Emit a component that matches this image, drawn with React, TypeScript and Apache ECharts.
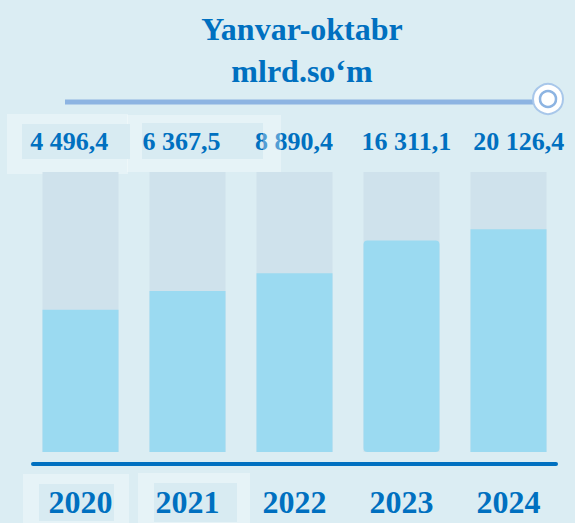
import React, { useEffect, useRef } from "react";
import * as echarts from "echarts";

const years = ["2020", "2021", "2022", "2023", "2024"];
const values = [4496.4, 6367.5, 8890.4, 16311.1, 20126.4];
const titleLines = ["Yanvar-oktabr", "mlrd.so‘m"];

const AXIS_MIN = 320;
const AXIS_MAX = 58300;
const SERIF = '"Liberation Serif", "Times New Roman", serif';
const BLUE = "#0070c0";

function fmt(v: number): string {
  const [i, d] = v.toFixed(1).split(".");
  return i.replace(/\B(?=(\d{3})+(?!\d))/g, " ") + "," + d;
}

export default function App() {
  const ref = useRef<HTMLDivElement>(null);
  useEffect(() => {
    if (!ref.current) return;
    const chart = echarts.init(ref.current, undefined, { renderer: "svg" });
    const overlay = "rgba(255,255,255,0.32)";
    const inner = "#d8ebf2";
    chart.setOption({
      animation: false,
      backgroundColor: "#dbedf3",
      grid: [
        { left: 27, right: 13, top: 172, bottom: 71 },
        { left: 13, width: 573, top: 100, height: 28 },
        { left: 33, right: 19, top: 172, bottom: 71 },
      ],
      xAxis: [
        {
          type: "category",
          gridIndex: 0,
          data: years,
          offset: 12,
          axisLine: { show: false, onZero: false },
          axisTick: { show: false },
          splitLine: { show: false },
          axisLabel: {
            interval: 0,
            margin: 22,
            fontSize: 32,
            lineHeight: 32,
            fontWeight: "bold",
            fontFamily: SERIF,
            color: BLUE,
          },
        },
        {
          type: "category",
          gridIndex: 1,
          data: values.map(fmt),
          axisLine: { show: false, onZero: false },
          axisTick: { show: false },
          splitLine: { show: false },
          axisLabel: {
            interval: 0,
            margin: 0,
            fontSize: 26,
            lineHeight: 26,
            fontWeight: "bold",
            fontFamily: SERIF,
            color: BLUE,
          },
        },
        {
          type: "category",
          gridIndex: 2,
          data: years,
          offset: 12,
          axisLine: { onZero: false, lineStyle: { color: BLUE, width: 4 } },
          axisTick: { show: false },
          axisLabel: { show: false },
          splitLine: { show: false },
        },
      ],
      yAxis: [
        { type: "log", gridIndex: 0, min: AXIS_MIN, max: AXIS_MAX, show: false },
        { type: "value", gridIndex: 1, min: 0, max: 1, show: false },
        { type: "value", gridIndex: 2, min: 0, max: 1, show: false },
      ],
      series: [
        {
          type: "bar",
          name: "frame",
          xAxisIndex: 0,
          yAxisIndex: 0,
          data: years.map(() => AXIS_MAX),
          barWidth: 76,
          barGap: "-100%",
          clip: true,
          silent: true,
          z: 1,
          itemStyle: { color: "#cfe2ec" },
        },
        {
          type: "bar",
          name: "value",
          xAxisIndex: 0,
          yAxisIndex: 0,
          data: values.map((v, i) =>
            i === 3 ? { value: v, itemStyle: { borderRadius: 4 } } : v
          ),
          barWidth: 76,
          barGap: "-100%",
          clip: true,
          z: 2,
          itemStyle: { color: "#9bdaf1" },
        },
      ],
      graphic: [
        {
          type: "text",
          x: 302,
          y: 29,
          style: {
            text: titleLines[0],
            fontSize: 32,
            fontWeight: "bold",
            fontFamily: SERIF,
            fill: BLUE,
            align: "center",
            verticalAlign: "middle",
          },
        },
        {
          type: "text",
          x: 302,
          y: 71,
          style: {
            text: titleLines[1],
            fontSize: 32,
            fontWeight: "bold",
            fontFamily: SERIF,
            fill: BLUE,
            align: "center",
            verticalAlign: "middle",
          },
        },
        {
          type: "line",
          shape: { x1: 65, y1: 102, x2: 536, y2: 102 },
          style: { stroke: "#8db4e2", lineWidth: 5 },
        },
        {
          type: "circle",
          shape: { cx: 548, cy: 99, r: 15 },
          style: { fill: "#ffffff", stroke: "#a8c7ea", lineWidth: 2 },
        },
        {
          type: "circle",
          shape: { cx: 548, cy: 99, r: 8 },
          style: { fill: "#ffffff", stroke: "#8db4e2", lineWidth: 2.5 },
        },
        // value label boxes
        { type: "rect", z: -10, shape: { x: 7, y: 114, width: 121, height: 60 }, style: { fill: overlay } },
        { type: "rect", z: -10, shape: { x: 127, y: 115, width: 136, height: 57 }, style: { fill: overlay } },
        { type: "rect", z: 100, shape: { x: 263, y: 115, width: 18, height: 57 }, style: { fill: overlay } },
        { type: "rect", z: -9, shape: { x: 22, y: 124, width: 108, height: 35 }, style: { fill: inner } },
        { type: "rect", z: -9, shape: { x: 142, y: 123, width: 121, height: 36 }, style: { fill: inner } },
        // year label boxes
        { type: "rect", z: -10, shape: { x: 23, y: 474, width: 106, height: 49 }, style: { fill: overlay } },
        { type: "rect", z: -10, shape: { x: 138, y: 473, width: 112, height: 50 }, style: { fill: overlay } },
        { type: "rect", z: -9, shape: { x: 39, y: 484, width: 75, height: 37 }, style: { fill: inner } },
        { type: "rect", z: -9, shape: { x: 154, y: 483, width: 83, height: 39 }, style: { fill: inner } },
      ],
    });
    return () => chart.dispose();
  }, []);
  return (
    <div
      ref={ref}
      style={{ position: "fixed", left: 0, top: 0, width: 575, height: 523 }}
    />
  );
}
